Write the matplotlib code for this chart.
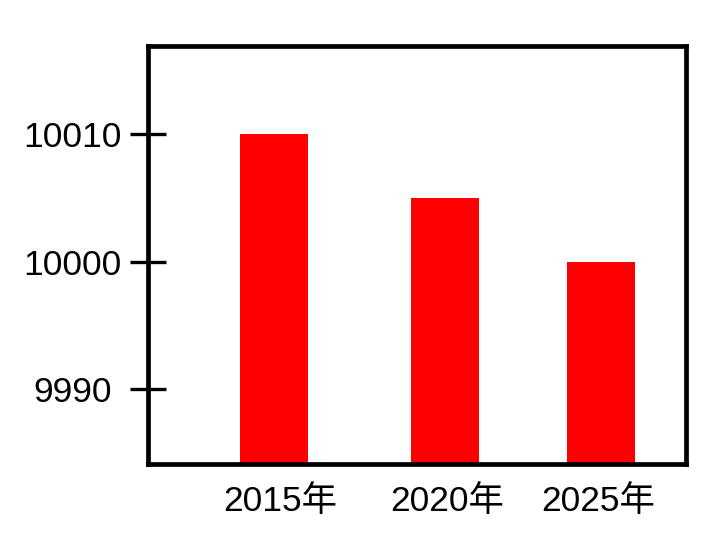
import matplotlib

matplotlib.use('Agg')
import matplotlib.pyplot as plt

# data
years = ['2015年', '2020年', '2025年']
values = [10010.0, 10005.0, 10000.0]
y_ticks = [9990, 10000, 10010]

plt.rcParams['font.family'] = ['Liberation Sans', 'Noto Sans CJK SC', 'DejaVu Sans']

fig = plt.figure(figsize=(7.12, 5.48), dpi=100)
ax = fig.add_axes([148 / 712, 84 / 548, 538 / 712, 418.3 / 548])

# bar centres and label centres (layout only, fraction of axes width)
positions = [0.2338, 0.5524, 0.8411]
label_pos = [0.2454, 0.5552, 0.8370]
ax.bar(positions, values, width=0.1264, color='#ff0000')

ax.set_xlim(0, 1)
ax.set_ylim(9984.15, 10016.9)
ax.set_xticks(label_pos)
ax.set_xticklabels(years)
ax.set_yticks(y_ticks)
ax.set_yticklabels([str(v) for v in y_ticks])

for spine in ax.spines.values():
    spine.set_linewidth(3.4)

ax.tick_params(axis='x', length=0, pad=15, labelsize=25.5)
ax.tick_params(axis='y', direction='inout', length=26, width=2.4,
               pad=41.5, labelsize=25.5)
for lbl in ax.get_yticklabels():
    lbl.set_horizontalalignment('center')

fig.savefig('out.png', dpi=100)
